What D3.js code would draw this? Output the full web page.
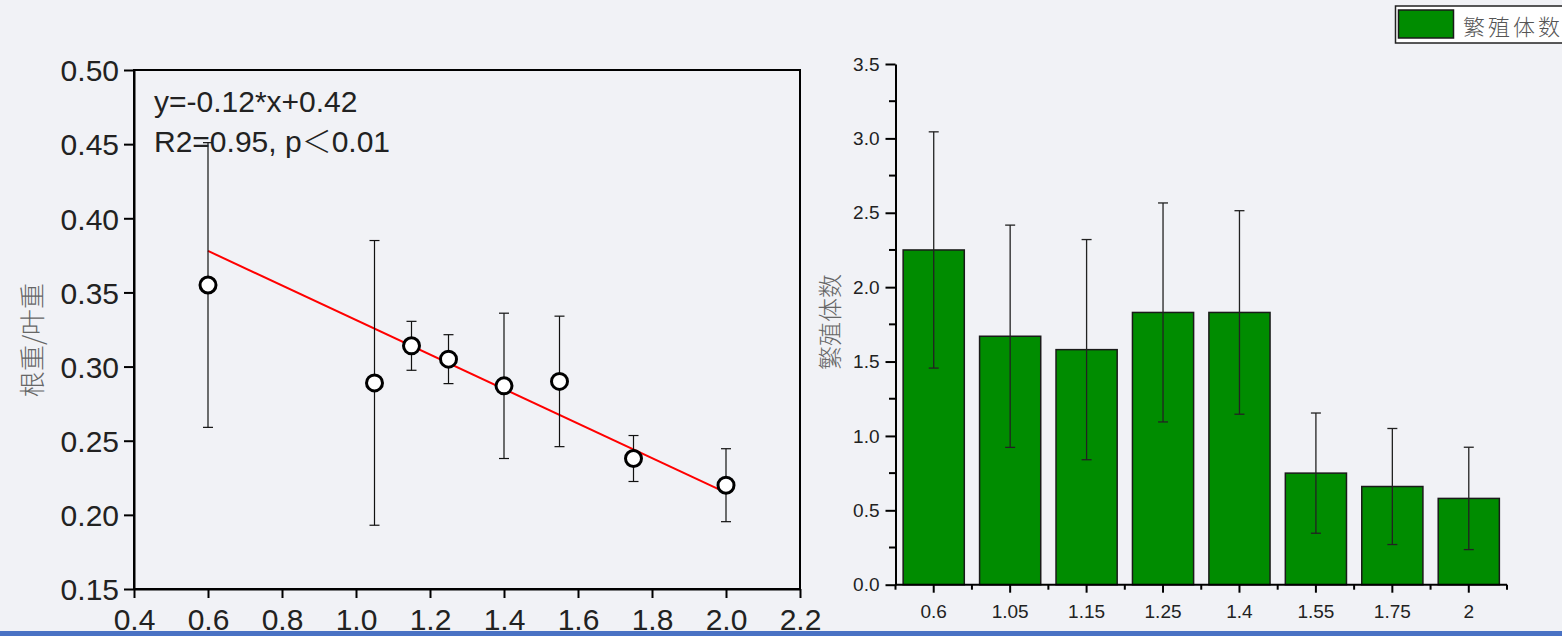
<!DOCTYPE html>
<html>
<head>
<meta charset="utf-8">
<script src="https://cdn.jsdelivr.net/npm/d3@7"></script>
<style>
  html, body { margin: 0; padding: 0; background: #f1f2f6; }
  svg { display: block; }
</style>
</head>
<body>
<svg id="chart" width="1562" height="636"></svg>
<script>
// ---- scatter: root/leaf weight ratio vs. treatment ----
const ratioX = [0.6, 1.05, 1.15, 1.25, 1.4, 1.55, 1.75, 2.0];
const ratioY = [0.355, 0.289, 0.314, 0.305, 0.287, 0.290, 0.238, 0.220];
const ratioErr = [0.096, 0.096, 0.0165, 0.0165, 0.049, 0.044, 0.0155, 0.0246];
const fitLine = [[0.6, 0.378], [2.0, 0.215]];
const ratioXTicks = [0.4, 0.6, 0.8, 1.0, 1.2, 1.4, 1.6, 1.8, 2.0, 2.2];
const ratioYTicks = [0.15, 0.20, 0.25, 0.30, 0.35, 0.40, 0.45, 0.50];
const fitEquation = "y=-0.12*x+0.42";
const fitStats = ["R2=0.95, p", "\uFF1C", "0.01"];

// ---- bars: propagule counts ----
const groups = ["0.6", "1.05", "1.15", "1.25", "1.4", "1.55", "1.75", "2"];
const counts = [2.25, 1.67, 1.58, 1.83, 1.83, 0.75, 0.66, 0.58];
const countErr = [0.794, 0.747, 0.74, 0.736, 0.684, 0.404, 0.39, 0.344];
const countTicks = [0.0, 0.5, 1.0, 1.5, 2.0, 2.5, 3.0, 3.5];
const seriesName = "繁殖体数";

const svg = d3.select("#chart");
const latin = "'Liberation Sans', Arial, sans-serif";
const cjk = "'Noto Sans CJK SC', sans-serif";

// ================= left panel =================
const x1 = d3.scaleLinear().domain([0.4, 2.2]).range([134, 800]);
const y1 = d3.scaleLinear().domain([0.15, 0.50]).range([589, 70]);
const g1 = svg.append("g");

// frame
g1.append("rect")
  .attr("x", x1(0.4)).attr("y", y1(0.5))
  .attr("width", x1(2.2) - x1(0.4)).attr("height", y1(0.15) - y1(0.5))
  .attr("fill", "none").attr("stroke", "#000").attr("stroke-width", 2);

const ax1 = g1.append("g").attr("transform", `translate(0,${y1(0.15)})`)
  .call(d3.axisBottom(x1).tickValues(ratioXTicks).tickFormat(d3.format(".1f"))
        .tickSize(9).tickSizeOuter(0).tickPadding(11));
const ay1 = g1.append("g").attr("transform", `translate(${x1(0.4)},0)`)
  .call(d3.axisLeft(y1).tickValues(ratioYTicks).tickFormat(d3.format(".2f"))
        .tickSize(10).tickSizeOuter(0).tickPadding(5));
[ax1, ay1].forEach(a => {
  a.select(".domain").attr("stroke", "#000").attr("stroke-width", 2);
  a.selectAll(".tick line").attr("stroke", "#000").attr("stroke-width", 2);
  a.selectAll(".tick text").attr("fill", "#222").style("font-family", latin).style("font-size", "30px");
});
ay1.selectAll(".tick text").attr("dy", "0.36em");

// regression line
g1.append("line")
  .attr("x1", x1(fitLine[0][0])).attr("y1", y1(fitLine[0][1]))
  .attr("x2", x1(fitLine[1][0])).attr("y2", y1(fitLine[1][1]))
  .attr("stroke", "#ff0000").attr("stroke-width", 2);

// error bars
const eb = g1.append("g").attr("stroke", "#111").attr("stroke-width", 1.2);
ratioX.forEach((v, i) => {
  const cx = x1(v), t = y1(ratioY[i] + ratioErr[i]), b = y1(ratioY[i] - ratioErr[i]);
  eb.append("line").attr("x1", cx).attr("x2", cx).attr("y1", t).attr("y2", b);
  eb.append("line").attr("x1", cx - 5).attr("x2", cx + 5).attr("y1", t).attr("y2", t);
  eb.append("line").attr("x1", cx - 5).attr("x2", cx + 5).attr("y1", b).attr("y2", b);
});

// markers
g1.append("g").selectAll("circle").data(ratioX).join("circle")
  .attr("cx", d => x1(d)).attr("cy", (d, i) => y1(ratioY[i])).attr("r", 8)
  .attr("fill", "#fff").attr("stroke", "#000").attr("stroke-width", 3);

// fit annotation
const ann = g1.append("g").attr("fill", "#222").style("font-family", latin).style("font-size", "30px");
ann.append("text").attr("x", 154).attr("y", 112).text(fitEquation);
const stats = ann.append("text").attr("x", 154).attr("y", 152);
stats.append("tspan").text(fitStats[0]);
stats.append("tspan").style("font-family", cjk).style("font-weight", 300).text(fitStats[1]);
stats.append("tspan").text(fitStats[2]);

// y title
g1.append("text")
  .attr("transform", "translate(42,340) rotate(-90)")
  .attr("text-anchor", "middle").attr("fill", "#666")
  .style("font-family", cjk).style("font-size", "26px").style("font-weight", 300)
  .text("根重/叶重");

// ================= right panel =================
const x2 = d3.scaleBand().domain(groups).range([895.5, 1507]).paddingInner(0.2).paddingOuter(0.1);
const y2 = d3.scaleLinear().domain([0, 3.5]).range([584.7, 64]);
const g2 = svg.append("g");

// bars
g2.append("g").selectAll("rect").data(groups).join("rect")
  .attr("x", d => x2(d)).attr("width", x2.bandwidth())
  .attr("y", (d, i) => y2(counts[i])).attr("height", (d, i) => y2(0) - y2(counts[i]))
  .attr("fill", "#008c00").attr("stroke", "#1a1a1a").attr("stroke-width", 1.5);

// error bars
const eb2 = g2.append("g").attr("stroke", "#222").attr("stroke-width", 1.3);
groups.forEach((gname, i) => {
  const cx = x2(gname) + x2.bandwidth() / 2;
  const t = y2(counts[i] + countErr[i]), b = y2(counts[i] - countErr[i]);
  eb2.append("line").attr("x1", cx).attr("x2", cx).attr("y1", t).attr("y2", b);
  eb2.append("line").attr("x1", cx - 5).attr("x2", cx + 5).attr("y1", t).attr("y2", t);
  eb2.append("line").attr("x1", cx - 5).attr("x2", cx + 5).attr("y1", b).attr("y2", b);
});

// minor y ticks halfway between labelled ticks
const minorY = countTicks.slice(0, -1).map((d, i) => (d + countTicks[i + 1]) / 2);
g2.append("g").selectAll("line").data(minorY).join("line")
  .attr("x1", 889).attr("x2", 895.5).attr("y1", d => y2(d)).attr("y2", d => y2(d))
  .attr("stroke", "#000").attr("stroke-width", 2);

// minor x ticks on band boundaries
const step = x2.step();
const bounds = d3.range(groups.length + 1).map(i => 895.5 + i * step);
g2.append("g").selectAll("line").data(bounds).join("line")
  .attr("x1", d => d).attr("x2", d => d).attr("y1", y2(0)).attr("y2", y2(0) + 5)
  .attr("stroke", "#000").attr("stroke-width", 2);

const ax2 = g2.append("g").attr("transform", `translate(0,${y2(0)})`)
  .call(d3.axisBottom(x2).tickSize(8).tickSizeOuter(0).tickPadding(12));
const ay2 = g2.append("g").attr("transform", "translate(895.5,0)")
  .call(d3.axisLeft(y2).tickValues(countTicks).tickFormat(d3.format(".1f"))
        .tickSize(10).tickSizeOuter(0).tickPadding(6));
[ax2, ay2].forEach(a => {
  a.select(".domain").attr("stroke", "#000").attr("stroke-width", 2);
  a.selectAll(".tick line").attr("stroke", "#000").attr("stroke-width", 2);
  a.selectAll(".tick text").attr("fill", "#222").style("font-family", latin).style("font-size", "19px");
});
ax2.select(".domain").attr("d", `M895.5,0H1507`);

// y title
g2.append("text")
  .attr("transform", "translate(828,322) rotate(-90)")
  .attr("text-anchor", "middle").attr("dominant-baseline", "central").attr("fill", "#666")
  .style("font-family", cjk).style("font-size", "24px").style("font-weight", 300)
  .text(seriesName);

// legend
const lg = svg.append("g");
lg.append("rect").attr("x", 1395.5).attr("y", 6).attr("width", 180).attr("height", 37)
  .attr("fill", "#fff").attr("stroke", "#222").attr("stroke-width", 1.5);
lg.append("rect").attr("x", 1398.5).attr("y", 10).attr("width", 55).attr("height", 28)
  .attr("fill", "#008c00").attr("stroke", "#1a1a1a").attr("stroke-width", 1.5);
lg.append("text").attr("x", 1463).attr("y", 25).attr("dominant-baseline", "central")
  .attr("fill", "#555").style("font-family", cjk).style("font-size", "22px")
  .style("font-weight", 300).style("letter-spacing", "3px")
  .text(seriesName);

// strip along the bottom edge
svg.append("rect").attr("x", 0).attr("y", 631).attr("width", 1562).attr("height", 5).attr("fill", "#4a72c4");
</script>
</body>
</html>
